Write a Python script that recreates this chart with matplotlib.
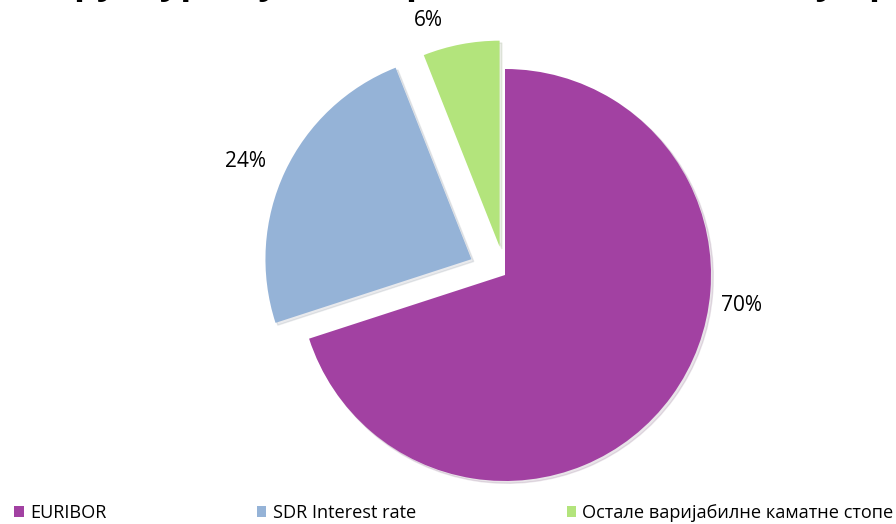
import matplotlib
matplotlib.use('Agg')
import matplotlib.pyplot as plt

labels = ['EURIBOR', 'SDR Interest rate', 'Остале варијабилне каматне стопе']
shares = [70, 24, 6]
colors = ['#A241A2', '#95B3D7', '#B3E47C']
explode = [0, 0.18, 0.14]
title = 'Структура дуга по врсти каматних стопа у процентима'

plt.rcParams['font.family'] = ['Open Sans', 'DejaVu Sans']

fig = plt.figure(figsize=(8.96, 5.24), dpi=100)
ax = fig.add_axes([0, 0, 1, 1])

wedges, texts, autotexts = ax.pie(
    shares, colors=colors, explode=explode, startangle=90, counterclock=False,
    radius=1, autopct='%.0f%%',
    shadow={'ox': 0.008, 'oy': -0.008, 'shade': 0.5, 'alpha': 0.12},
    textprops={'fontsize': 15, 'color': 'black'})

# label spots (Excel "best fit")
label_pos = [(1.15, -0.15), (-1.26, 0.55), (-0.37, 1.235)]
for t, p in zip(autotexts, label_pos):
    t.set_position(p)
    t.set_ha('center')
    t.set_va('center')

ax.set_xlim(-505 / 206, (896 - 505) / 206)
ax.set_ylim(-(524 - 275) / 206, 275 / 206)
ax.set_aspect('auto')
ax.axis('off')

# title is cut off by the top edge, only descenders show
fig.text(0.035, 1 + 7 / 524, title, fontsize=26, fontweight='bold',
         ha='left', va='baseline')

fig.legend(wedges, labels, loc='lower left', bbox_to_anchor=(0.008, -0.01),
           ncol=3, frameon=False, fontsize=13.1, handlelength=0.5, handleheight=0.5,
           handletextpad=0.35, columnspacing=8.3, borderaxespad=0)

fig.savefig('out.png', dpi=100)
